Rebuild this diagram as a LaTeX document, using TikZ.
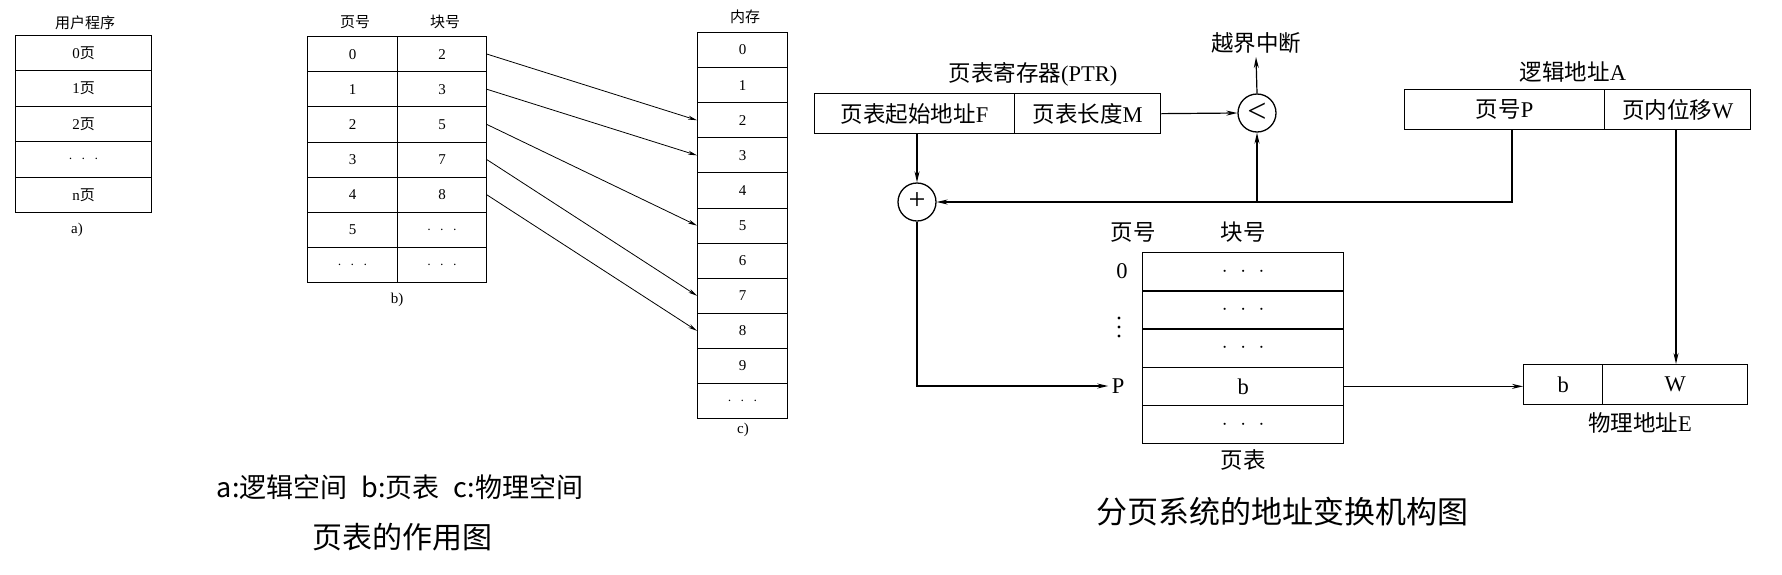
\documentclass[tikz,border=0pt]{standalone}
\usepackage{fontspec}
\setmainfont{Liberation Serif}
\newfontfamily\cjk{Noto Sans CJK SC}
\usetikzlibrary{arrows.meta}
\newcommand{\mydts}{$\cdot\mkern7mu\cdot\mkern7mu\cdot$}
\begin{document}
\begin{tikzpicture}[x=1pt,y=-1pt,
  sbox/.style={draw, line width=1pt, inner sep=0pt, anchor=north west},
  box/.style={draw, line width=1.3pt, inner sep=0pt, anchor=north west},
  sm/.style={font=\fontsize{15}{15}\selectfont},
  smc/.style={font=\fontsize{15}{15}\selectfont\cjk},
  md/.style={font=\fontsize{22.5}{22.5}\selectfont},
  mdc/.style={font=\fontsize{22.5}{22.5}\selectfont\cjk},
  thinarrow/.style={line width=0.8pt, -{Stealth[length=9pt,width=4pt]}},
  arr/.style={line width=1.2pt, -{Stealth[length=11pt,width=5pt]}},
  circ/.style={draw, circle, line width=1.3pt, minimum size=38pt, inner sep=0pt}
]
\useasboundingbox (0,0) rectangle (1782,574);

% ---- a) user program
\node[smc] (la) at (85,23) {用户程序};
\foreach \t [count=\i from 0] in {{0{\cjk 页}},{1{\cjk 页}},{2{\cjk 页}},{\mydts},{n{\cjk 页}}}
  \node[sbox, sm, minimum width=136pt, minimum height=35.4pt] (a\i) at (15,{35+35.4*\i}) {\t};
\node[sm] (capa) at (77,230) {a)};

% ---- b) page table
\node[smc] (hp) at (355,22) {页号};
\node[smc] (hb) at (445,22) {块号};
\foreach \p/\b [count=\i from 0] in {0/2,1/3,2/5,3/7,4/8,5/\mydts,\mydts/\mydts} {
  \node[sbox, sm, minimum width=90pt, minimum height=35.2pt] (bp\i) at (307,{36+35.2*\i}) {\p};
  \node[sbox, sm, minimum width=89pt, minimum height=35.2pt] (bb\i) at (397,{36+35.2*\i}) {\b};
}
\node[sm] (capb) at (397,300) {b)};

% ---- c) memory
\node[smc] (hm) at (745,17) {内存};
\foreach \i in {0,...,9}
  \node[sbox, sm, minimum width=90pt, minimum height=35.1pt] (m\i) at (697,{32+35.1*\i}) {\i};
\node[sbox, sm, minimum width=90pt, minimum height=35.1pt] (m10) at (697,{32+35.1*10}) {\mydts};
\node[sm] (capc) at (743,430) {c)};

\draw[thinarrow] (bb0.east) -- (m2.west);
\draw[thinarrow] (bb1.east) -- (m3.west);
\draw[thinarrow] (bb2.east) -- (m5.west);
\draw[thinarrow] (bb3.east) -- (m7.west);
\draw[thinarrow] (bb4.east) -- (m8.west);

% ---- right diagram
\node[md] (ptrl) at (1033,74) {{\cjk 页表寄存器}(PTR)};
\node[box, md, minimum width=200pt, minimum height=40pt] (F) at (814,93) {{\cjk 页表起始地址}F};
\node[box, md, minimum width=146pt, minimum height=40pt] (M) at (1014,93) {{\cjk 页表长度}M};
\node[circ, font=\fontsize{34}{34}\selectfont] (cmp) at (1257,113) {\raisebox{1pt}{<}};
\node[mdc] (oob) at (1256,43) {越界中断};
\draw[arr] (M.east) -- (cmp.west);
\draw[arr] (cmp.north) -- (oob.south);

\node[circ, font=\fontsize{30}{30}\selectfont] (plus) at (917,202) {\raisebox{1pt}{+}};
\draw[arr] (F.south -| plus.north) -- (plus.north);

\node[md] (lal) at (1573,72) {{\cjk 逻辑地址}A};
\node[box, md, minimum width=200pt, minimum height=40pt] (LP) at (1404,89) {{\cjk 页号}P};
\node[box, md, minimum width=146pt, minimum height=40pt] (LW) at (1604,89) {{\cjk 页内位移}W};
\coordinate (pdown) at (1512,202);
\coordinate (jn) at (1257,202);
\draw[arr] (LP.south -| pdown) -- (pdown) -- (plus.east);
\draw[arr] (jn) -- (cmp.south);

% page table
\node[mdc] (php) at (1133,232) {页号};
\node[mdc] (phb) at (1243,232) {块号};
\foreach \t [count=\i from 0] in {\mydts,\mydts,\mydts,b,\mydts}
  \node[box, md, minimum width=201pt, minimum height=38.2pt] (pt\i) at (1142,{252+38.2*\i}) {\t};
\node[mdc] (ptl) at (1243,460) {页表};
\node[md] (l0) at (1122,271) {0};
\foreach \yy in {318,327,336} \fill (1119,\yy) circle (1.7pt);
\node[md] (lP) at (1118,386) {P};
\draw[arr] (plus.south) |- (lP.west);

% physical address
\node[box, md, minimum width=79pt, minimum height=40pt] (Eb) at (1523,364) {b};
\node[box, md, minimum width=145pt, minimum height=40pt] (EW) at (1602,364) {W};
\node[md] (El) at (1640,423) {{\cjk 物理地址}E};
\draw[arr] (pt3.east) -- (pt3.east -| Eb.west);
\coordinate (wx) at (1676,0);
\draw[arr] (LW.south -| wx) -- (EW.north -| wx);

% captions
\node[font=\fontsize{27}{27}\selectfont\cjk] (cap1) at (400,487) {a:逻辑空间\hspace{14pt}b:页表\hspace{14pt}c:物理空间};
\node[font=\fontsize{30}{30}\selectfont\cjk] (cap2) at (402,537) {页表的作用图};
\node[font=\fontsize{31}{31}\selectfont\cjk] (cap3) at (1282,512) {分页系统的地址变换机构图};
\end{tikzpicture}
\end{document}
